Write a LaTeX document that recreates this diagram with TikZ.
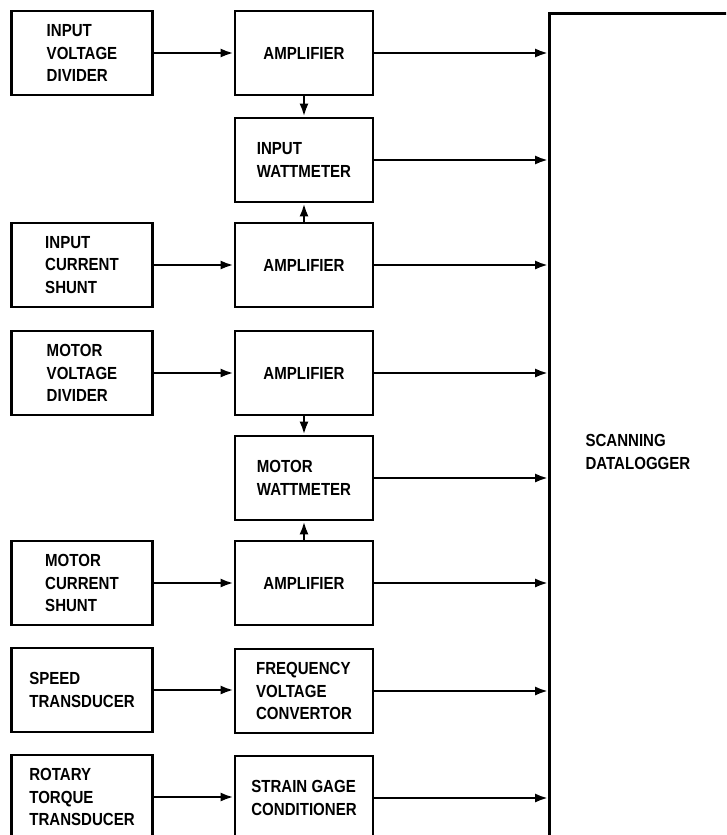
\documentclass[tikz,border=0pt]{standalone}
\usepackage{fontspec}
\setmainfont{Liberation Sans}[FakeStretch=0.86]
\usetikzlibrary{arrows.meta}
\begin{document}
\begin{tikzpicture}[x=1pt,y=1pt,
  every node/.style={font=\bfseries\fontsize{17.5}{22.5}\selectfont},
  blk/.style={draw, line width=2.6pt, rectangle, align=left, minimum height=84pt, inner sep=0pt},
  lb/.style={blk, minimum width=141pt},
  mb/.style={blk, minimum width=138pt},
  conn/.style={line width=2.6pt, -{Latex[length=13pt,width=9pt]}}]
\useasboundingbox (0,0) rectangle (726,-835);
\clip (0,0) rectangle (726,-835);
% left column
\node[lb] (l1) at (82,-53) {INPUT\\VOLTAGE\\DIVIDER};
\node[lb] (l2) at (82,-265) {INPUT\\CURRENT\\SHUNT};
\node[lb] (l3) at (82,-373) {MOTOR\\VOLTAGE\\DIVIDER};
\node[lb] (l4) at (82,-583) {MOTOR\\CURRENT\\SHUNT};
\node[lb] (l5) at (82,-690) {SPEED\\TRANSDUCER};
\node[lb] (l6) at (82,-797) {ROTARY\\TORQUE\\TRANSDUCER};
% middle column
\node[mb] (a1) at (304,-53) {AMPLIFIER};
\node[mb] (w1) at (304,-160) {INPUT\\WATTMETER};
\node[mb] (a2) at (304,-265) {AMPLIFIER};
\node[mb] (a3) at (304,-373) {AMPLIFIER};
\node[mb] (w2) at (304,-478) {MOTOR\\WATTMETER};
\node[mb] (a4) at (304,-583) {AMPLIFIER};
\node[mb] (fv) at (304,-691) {FREQUENCY\\VOLTAGE\\CONVERTOR};
\node[mb] (sg) at (304,-798) {STRAIN GAGE\\CONDITIONER};
% datalogger
\node[draw, line width=2.6pt, minimum width=191pt, minimum height=837pt, inner sep=0pt] (dl) at (645,-432) {};
\node[anchor=west, align=left] (dlt) at (582,-452) {SCANNING\\DATALOGGER};
% connectors
\foreach \s/\t in {l1/a1,l2/a2,l3/a3,l4/a4,l5/fv,l6/sg}
  \draw[conn] (\s.east) -- (\s.east -| \t.west);
\foreach \s in {a1,w1,a2,a3,w2,a4,fv,sg}
  \draw[conn] (\s.east) -- (\s.east -| dl.west);
\draw[conn] (a1.south) -- (w1.north);
\draw[conn] (a2.north) -- (w1.south);
\draw[conn] (a3.south) -- (w2.north);
\draw[conn] (a4.north) -- (w2.south);
\end{tikzpicture}
\end{document}
